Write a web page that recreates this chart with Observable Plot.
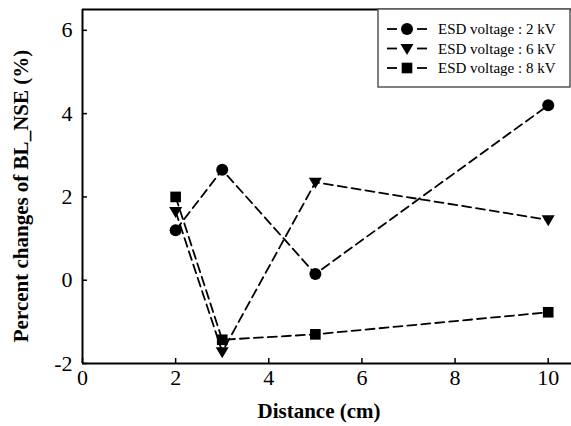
<!DOCTYPE html>
<html>
<head>
<meta charset="utf-8">
<script src="https://cdn.jsdelivr.net/npm/d3@7"></script>
<script src="https://cdn.jsdelivr.net/npm/@observablehq/plot@0.6"></script>
<style>
  html, body { margin: 0; padding: 0; background: #fff; }
  #chart { position: relative; width: 571px; height: 426px; }
  #chart svg text { font-family: "Liberation Serif", serif !important; }
  #chart svg text.leg { font-size: 15px !important; }
</style>
</head>
<body>
<div id="chart"></div>
<script>
const distances = [2, 3, 5, 10];
const v2kV = [1.2, 2.65, 0.15, 4.2];
const v6kV = [1.65, -1.72, 2.35, 1.45];
const v8kV = [2.0, -1.43, -1.3, -0.77];
const seriesNames = ["ESD voltage : 2 kV", "ESD voltage : 6 kV", "ESD voltage : 8 kV"];
const xTicks = [0, 2, 4, 6, 8, 10];
const yTicks = [-2, 0, 2, 4, 6];
const xDomain = [0, 10.5];
const yDomain = [-2, 6.5];

const triangleDown = {
  draw(ctx, size) {
    ctx.moveTo(-6.5, -4.5);
    ctx.lineTo(6.5, -4.5);
    ctx.lineTo(0, 6.5);
    ctx.closePath();
  }
};
const symbols = [d3.symbolCircle, triangleDown, d3.symbolSquare];

const allSeries = [v2kV, v6kV, v8kV];
const data = [];
allSeries.forEach((vals, si) => {
  vals.forEach((v, i) => data.push({series: seriesNames[si], si, x: distances[i], y: v}));
});

const font = "Liberation Serif, serif";

const chart = Plot.plot({
  width: 571,
  height: 426,
  marginLeft: 82,
  marginRight: 0,
  marginTop: 9,
  marginBottom: 63,
  style: {fontFamily: font, background: "#fff", color: "#000"},
  x: {domain: xDomain},
  y: {domain: yDomain},
  symbol: {domain: seriesNames, range: symbols},
  marks: [
    Plot.ruleY([yDomain[1]], {stroke: "#000", strokeWidth: 2}),
    Plot.ruleY([yDomain[0]], {stroke: "#000", strokeWidth: 2}),
    Plot.ruleX([xDomain[0]], {stroke: "#000", strokeWidth: 2}),
    Plot.axisX({ticks: xTicks, tickSize: -5, tickPadding: 11, fontSize: 22, strokeWidth: 1.5, label: null, tickFormat: d => String(d)}),
    Plot.axisY({ticks: yTicks, tickSize: -5, tickPadding: 15, fontSize: 22, strokeWidth: 1.5, label: null, tickFormat: d => String(d)}),
    Plot.line(data, {x: "x", y: "y", z: "series", stroke: "#000", strokeWidth: 1.8, strokeDasharray: "9,5"}),
    Plot.dot(data, {x: "x", y: "y", symbol: "series", fill: "#000", stroke: "none", r: 6})
  ]
});

const svg = d3.select(chart);
svg.append("text")
  .attr("x", 319).attr("y", 418)
  .attr("text-anchor", "middle")
  .attr("font-weight", "bold").attr("font-size", 21)
  .text("Distance (cm)");
svg.append("text")
  .attr("transform", "translate(28,196) rotate(-90)")
  .attr("text-anchor", "middle")
  .attr("font-weight", "bold").attr("font-size", 21)
  .text("Percent changes of BL_NSE (%)");

const lg = svg.append("g");
lg.append("rect").attr("x", 378).attr("y", 9).attr("width", 192).attr("height", 78)
  .attr("fill", "#fff").attr("stroke", "#555").attr("stroke-width", 1.5);
seriesNames.forEach((name, i) => {
  const cy = 29 + i * 19.5;
  lg.append("line").attr("x1", 387).attr("x2", 397).attr("y1", cy).attr("y2", cy).attr("stroke", "#000").attr("stroke-width", 1.8);
  lg.append("line").attr("x1", 417).attr("x2", 427).attr("y1", cy).attr("y2", cy).attr("stroke", "#000").attr("stroke-width", 1.8);
  lg.append("path").attr("transform", `translate(407,${cy})`)
    .attr("d", d3.symbol(symbols[i], 6 * 6 * Math.PI)()).attr("fill", "#000");
  lg.append("text").attr("class", "leg").attr("x", 438).attr("y", cy).attr("dy", "0.35em")
    .attr("text-anchor", "start").attr("font-size", 15).text(name);
});

document.getElementById("chart").appendChild(chart);
</script>
</body>
</html>
